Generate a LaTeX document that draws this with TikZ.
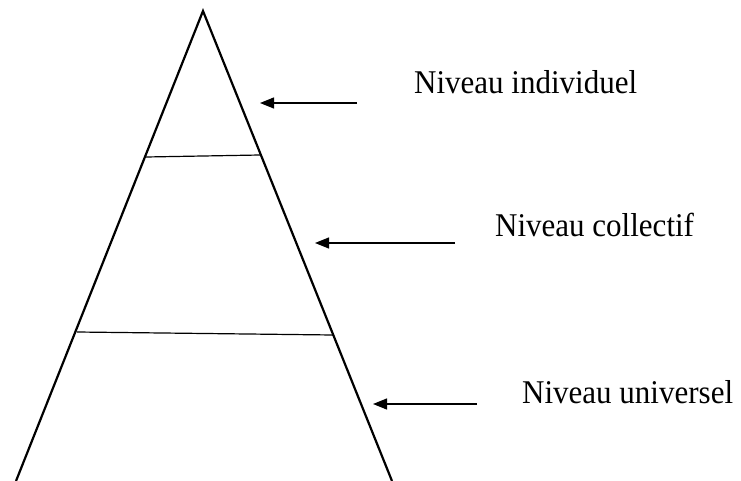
\documentclass[tikz,border=0pt]{standalone}
\usepackage{fontspec}
\setmainfont{Liberation Serif}
\usetikzlibrary{arrows.meta}
\begin{document}
\begin{tikzpicture}[x=1pt,y=-1pt,
  side/.style={line width=2.2pt},
  level/.style={line width=1.2pt},
  pointer/.style={line width=1.2pt,-{Triangle[length=14pt,width=11pt]}},
  label/.style={font=\fontsize{31}{36}\selectfont,anchor=base west,inner sep=0pt,yscale=1.07}]
\useasboundingbox (0,0) rectangle (741,481);
\coordinate (apex) at (203,11);
\coordinate (bl) at (16,481);
\coordinate (br) at (392,481);
\draw[side] (bl) -- (apex) -- (br);
\coordinate (u1) at (146,157);
\coordinate (u2) at (260,155);
\coordinate (l1) at (77,332);
\coordinate (l2) at (333,335);
\draw[level] (u1) -- (u2);
\draw[level] (l1) -- (l2);
\coordinate (t1) at (357,103);
\coordinate (h1) at (260,103);
\coordinate (t2) at (455,243);
\coordinate (h2) at (315,243);
\coordinate (t3) at (477,404);
\coordinate (h3) at (373,404);
\draw[pointer] (t1) -- (h1);
\draw[pointer] (t2) -- (h2);
\draw[pointer] (t3) -- (h3);
\node[label] (n1) at (414,94) {Niveau individuel};
\node[label] (n2) at (495,236) {Niveau collectif};
\node[label] (n3) at (522,403) {Niveau universel};
\end{tikzpicture}
\end{document}
